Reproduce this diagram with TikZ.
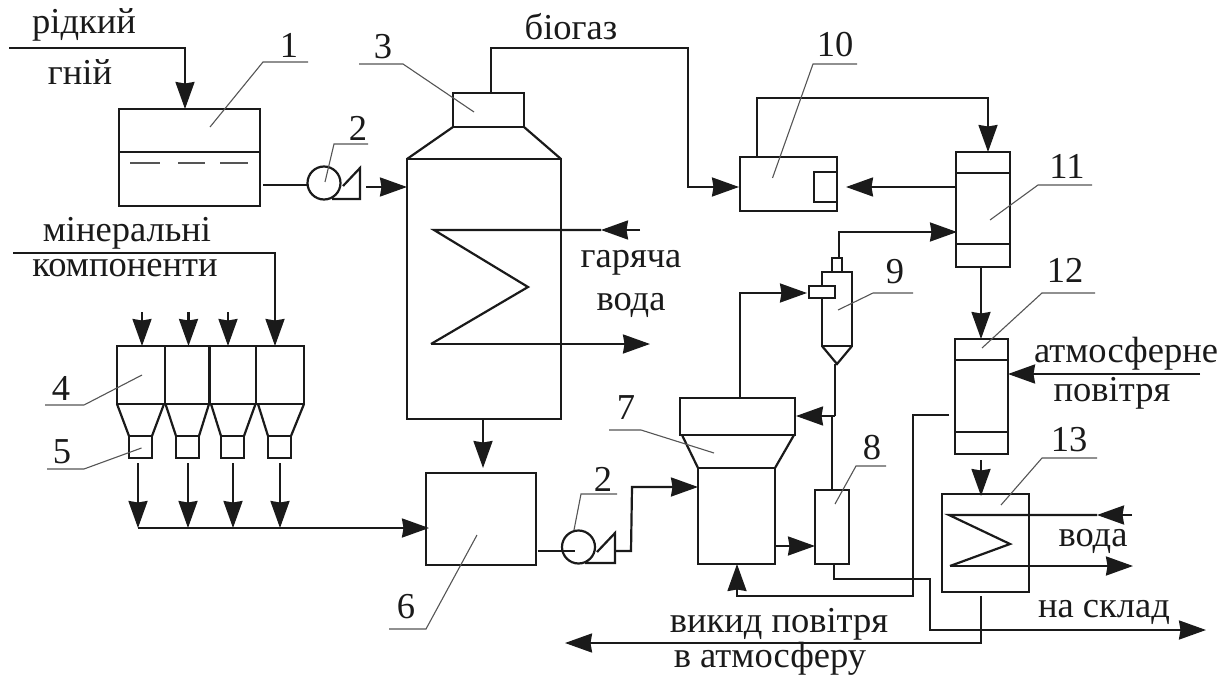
\documentclass[tikz,border=0pt]{standalone}
\usepackage{fontspec}
\setmainfont{Liberation Serif}
\usetikzlibrary{arrows.meta,fit}
\definecolor{ink}{HTML}{1A1A1A}
\definecolor{lead}{HTML}{555555}
\tikzset{
  pbox/.style={draw=ink,line width=2.2pt,inner sep=0pt,outer sep=0pt},
  pipe/.style={draw=ink,line width=2.2pt,line join=miter},
  flow/.style={pipe,-{Stealth[length=27pt,width=19pt,inset=1.5pt]}},
  thin part/.style={draw=ink,line width=1.4pt},
  dash part/.style={draw=lead,line width=1.2pt},
  leader/.style={draw=lead,line width=1.1pt},
  lbl/.style={font=\fontsize{36.5}{38}\selectfont,text=ink,inner sep=0pt}
}
\newcommand{\pbx}[5]{\coordinate (#1-a) at (#2,#3); \coordinate (#1-b) at (#4,#5); \node[pbox,fit=(#1-a)(#1-b)] (#1) {};}
\newcommand{\lead}[7]{\coordinate (#1-p) at (#2,#3); \coordinate (#1-q) at (#4,#5); \coordinate (#1-r) at (#6,#7); \draw[leader] (#1-p) -- (#1-q) -- (#1-r);}
\begin{document}
\begin{tikzpicture}[x=1pt,y=-1pt]
\useasboundingbox (0,0) rectangle (1230,676);
% texts
\node[lbl] (t-rid) at (84,25) {рідкий};
\node[lbl] (t-gn) at (80,72) {гній};
\node[lbl] (t-bio) at (571,27) {біогаз};
\node[lbl] (t-min) at (127,233) {мінеральні};
\node[lbl] (t-kom) at (125,268) {компоненти};
\node[lbl] (t-gar) at (631,263) {гаряча};
\node[lbl] (t-vod) at (631,305) {вода};
\node[lbl] (t-atm) at (1126,354) {атмосферне};
\node[lbl] (t-pov) at (1112,393) {повітря};
\node[lbl] (t-vod2) at (1093,541) {вода};
\node[lbl] (t-skl) at (1104,612) {на склад};
\node[lbl] (t-vyk) at (779,624) {викид повітря};
\node[lbl] (t-vat) at (770,659) {в атмосферу};
% numbers
\node[lbl] (n1) at (289,45) {1};
\node[lbl] (n2) at (358,128) {2};
\node[lbl] (n3) at (383,47) {3};
\node[lbl] (n4) at (61,388) {4};
\node[lbl] (n5) at (62,452) {5};
\node[lbl] (n6) at (406,607) {6};
\node[lbl] (n2b) at (603,479) {2};
\node[lbl] (n7) at (626,408) {7};
\node[lbl] (n8) at (872,448) {8};
\node[lbl] (n9) at (895,272) {9};
\node[lbl] (n10) at (835,45) {10};
\node[lbl] (n11) at (1067,166) {11};
\node[lbl] (n12) at (1065,270) {12};
\node[lbl] (n13) at (1069,440) {13};
% equipment
\pbx{tank}{119}{109}{260}{206}
\draw[thin part] (tank.west |- 0,152) -- (tank.east |- 0,152);
\draw[dash part] (130,163) -- (160,163) (178,163) -- (205,163) (220,163) -- (248,163);
\pbx{head}{453}{93}{524}{127}
\pbx{reactor}{407}{159}{561}{419}
\draw[pipe] (reactor.north west) -- (head.south west) (head.south east) -- (reactor.north east);
\node[pbox,circle,minimum size=33pt] (pump1) at (324,183) {};
\draw[pipe] (332,199) -- (360,199) -- (360,168) -- (343,186);
\node[pbox,circle,minimum size=33pt] (pump2) at (578.5,547) {};
\draw[pipe] (585,563) -- (615,563) -- (615,533) -- (597,552);
% hoppers
\pbx{hop1}{117}{346}{165}{404}
\pbx{hop2}{165}{346}{209.5}{404}
\pbx{hop3}{209.5}{346}{256}{404}
\pbx{hop4}{256}{346}{304}{404}
\pbx{feed1}{129}{436}{152}{458}
\pbx{feed2}{176}{436}{199}{458}
\pbx{feed3}{221}{436}{244}{458}
\pbx{feed4}{268}{436}{291}{458}
\draw[pipe] (hop1.south west) -- (feed1.north west) (164,404) -- (feed1.north east);
\draw[pipe] (165.5,404) -- (feed2.north west) (209,404) -- (feed2.north east);
\draw[pipe] (211,404) -- (feed3.north west) (255.5,404) -- (feed3.north east);
\draw[pipe] (258,404) -- (feed4.north west) (hop4.south east) -- (feed4.north east);
\pbx{mixer}{426}{473}{536}{565}
% 7
\pbx{d7top}{680}{398}{795}{435}
\pbx{d7low}{698}{468}{775}{564}
\draw[pipe] (682,435) -- (d7low.north west) (794,435) -- (d7low.north east);
\pbx{d8}{815}{490}{849}{564}
% 9
\pbx{d9noz}{832}{258}{842}{272}
\pbx{d9body}{822}{272}{852}{346}
\coordinate (d9tip) at (837,364);
\draw[pipe] (d9body.south west) -- (d9tip) -- (d9body.south east);
\node[pbox,fill=white,minimum width=26pt,minimum height=12pt] (d9in) at (822,292) {};
% 10
\pbx{d10}{740}{157}{837}{211}
\draw[pipe] (837,172) -- (814,172) -- (814,202) -- (837,202);
% 11
\pbx{d11}{956}{152}{1010}{267}
\draw[pipe] (d11.west |- 0,173) -- (d11.east |- 0,173) (d11.west |- 0,244) -- (d11.east |- 0,244);
% 12
\pbx{d12}{955}{339}{1008}{454}
\draw[pipe] (d12.west |- 0,360) -- (d12.east |- 0,360) (d12.west |- 0,432) -- (d12.east |- 0,432);
% 13
\pbx{d13}{942}{494}{1029}{592}
% connectors
\coordinate (c-in) at (9,48);
\draw[flow] (c-in) -| (tank.north -| 185,0);
\coordinate (c-t) at (263,185);
\draw[pipe] (c-t) -- (pump1.west |- c-t);
\coordinate (c-p1) at (366,187);
\draw[flow] (c-p1) -- (reactor.west |- c-p1);
\coordinate (c-h) at (491,93);
\coordinate (c-b) at (688,48);
\coordinate (c-d10) at (739,187);
\draw[flow] (c-h) |- (c-b) |- (c-d10);
% hot coil
\coordinate (k1) at (434,230); \coordinate (k2) at (528,287); \coordinate (k3) at (431,344);
\coordinate (k0) at (640,230); \coordinate (k0m) at (601,230); \coordinate (k4) at (650,344);
\draw[flow] (k0) -- (k0m);
\draw[pipe] (k0m) -- (k1) -- (k2) -- (k3);
\draw[flow] (k3) -- (k4);
% minerals
\coordinate (c-m) at (13,253);
\coordinate (c-m2) at (275,346);
\draw[flow] (c-m) -| (c-m2);
\foreach \x/\n in {142/a,188.5/b,228/c}{
  \coordinate (s\n) at (\x,312);
  \draw[flow] (s\n) -- (\x,346);
}
% bus
\foreach \x/\n in {138/a,188/b,233/c,280/d}{
  \coordinate (u\n) at (\x,463);
  \coordinate (v\n) at (\x,528);
  \draw[flow] (u\n) -- (v\n);
}
\coordinate (c-mx) at (429,528);
\draw[flow] (va) -- (c-mx);
\coordinate (c-r) at (483,419);
\coordinate (c-rb) at (483,468);
\draw[flow] (c-r) -- (c-rb);
% pump 2
\coordinate (c-m1) at (537.5,551);
\coordinate (c-m2a) at (575,551);
\draw[pipe] (c-m1) -- (c-m2a);
\coordinate (c-p2) at (615,551);
\coordinate (c-p3) at (631,551);
\coordinate (c-p4) at (632,487);
\coordinate (c-p5) at (698,487);
\draw[flow] (c-p2) -- (c-p3) -- (c-p4) -- (c-p5);
% 7 to 9
\coordinate (c-7t) at (740,399);
\coordinate (c-9i) at (807,293);
\draw[flow] (c-7t) |- (c-9i);
% 9 to 11
\coordinate (c-9t) at (839,258);
\coordinate (c-11i) at (957,232);
\draw[flow] (c-9t) |- (c-11i);
% 9 down
\coordinate (c-9b) at (835,364);
\coordinate (c-j) at (835,416);
\coordinate (c-j2) at (796,416);
\draw[pipe] (c-9b) -- (c-j);
\draw[flow] (c-j) -- (c-j2);
\coordinate (c-j3) at (832,416);
\draw[pipe] (c-j3) -- (d8.north -| c-j3);
% 7 to 8
\coordinate (c-78) at (775,546);
\draw[flow] (c-78) -- (d8.west |- c-78);
% 10 / 11
\coordinate (c-10t) at (757,157);
\coordinate (c-10c) at (988,98);
\coordinate (c-11t) at (988,152);
\draw[flow] (c-10t) |- (c-10c) -- (c-11t);
\coordinate (c-11w) at (956,187);
\coordinate (c-10e) at (846,187);
\draw[flow] (c-11w) -- (c-10e);
% 11 to 12, 12 to 13
\coordinate (c-11b) at (981,267);
\coordinate (c-12t) at (981,339);
\draw[flow] (c-11b) -- (c-12t);
\coordinate (c-12b) at (981,460);
\coordinate (c-13t) at (981,496);
\draw[flow] (c-12b) -- (c-13t);
% air
\coordinate (c-air) at (1200,374);
\draw[flow] (c-air) -- (d12.east |- c-air);
\coordinate (c-12w) at (949,415);
\coordinate (c-a1) at (913,415);
\coordinate (c-a2) at (913,596);
\coordinate (c-a3) at (737,596);
\draw[flow] (c-12w) -- (c-a1) -- (c-a2) -- (c-a3) -- (d7low.south -| c-a3);
% 8 to store
\coordinate (c-8b) at (834,564);
\coordinate (c-s1) at (834,579);
\coordinate (c-s2) at (930,579);
\coordinate (c-s3) at (930,630);
\coordinate (c-s4) at (1206,630);
\draw[flow] (c-8b) -- (c-s1) -- (c-s2) -- (c-s3) -- (c-s4);
% 13 out
\coordinate (c-13b) at (981,596);
\coordinate (c-o1) at (981,643);
\coordinate (c-o2) at (565,643);
\draw[flow] (c-13b) -- (c-o1) -- (c-o2);
% coil 13
\coordinate (w0) at (1132,515); \coordinate (wm) at (1097,515); \coordinate (w1) at (949,515);
\coordinate (w2) at (1010,544); \coordinate (w3) at (950,566); \coordinate (w4) at (1133,566);
\draw[flow] (w0) -- (wm);
\draw[pipe] (wm) -- (w1) -- (w2) -- (w3);
\draw[flow] (w3) -- (w4);
% leaders
\lead{l1}{308}{62}{263}{62}{210}{127}
\lead{l2}{368}{144}{334}{144}{325}{182}
\lead{l3}{359}{64}{403}{64}{474}{112}
\lead{l4}{45}{405}{84}{405}{142}{375}
\lead{l5}{47}{469}{84}{469}{141.5}{448}
\lead{l6}{389}{629}{426}{629}{477}{535}
\lead{l2b}{617}{494}{581}{494}{574}{530}
\lead{l7}{609}{430}{641}{430}{714}{453}
\lead{l8}{886}{466}{856}{466}{835}{504}
\lead{l9}{913}{293}{873}{293}{838}{310}
\lead{l10}{857}{64}{813}{64}{772.5}{178}
\lead{l11}{1092}{185}{1038}{185}{990}{220}
\lead{l12}{1095}{293}{1042}{293}{982}{348}
\lead{l13}{1097}{458}{1042}{458}{1001}{505}
\end{tikzpicture}
\end{document}
